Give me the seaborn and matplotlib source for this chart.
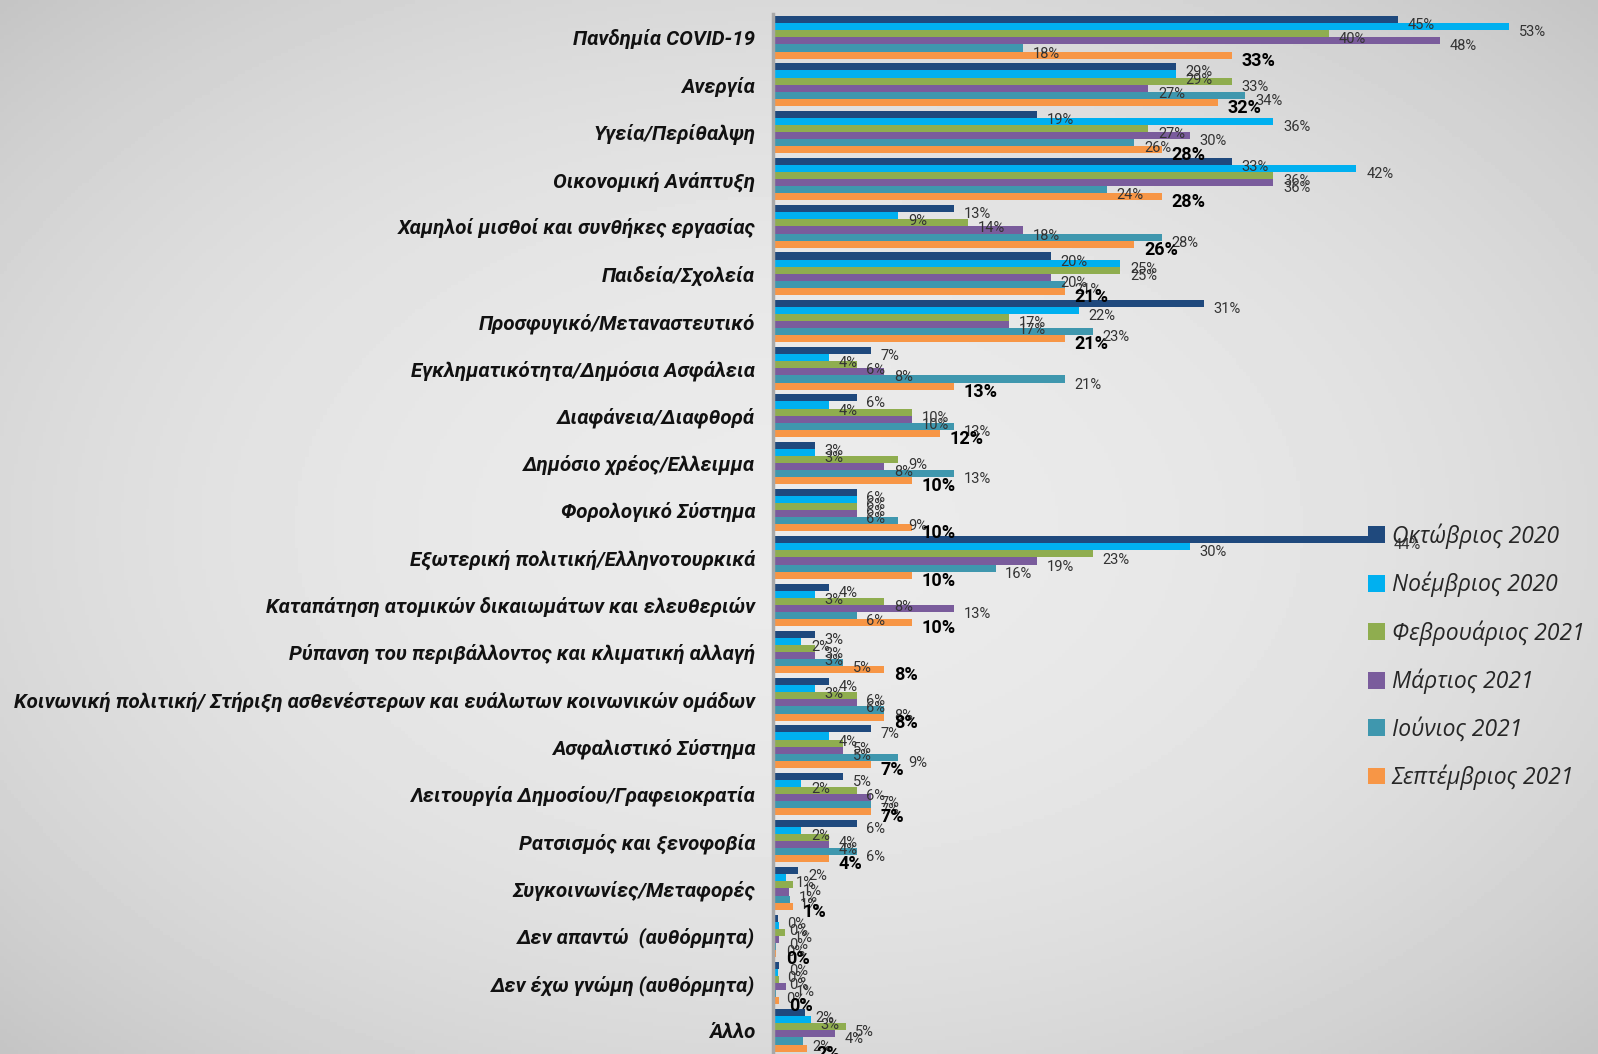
import numpy as np
import pandas as pd
import matplotlib
matplotlib.use("Agg")
import matplotlib.pyplot as plt
import seaborn as sns

# categories top to bottom
categories = [
    "Πανδημία COVID-19",
    "Ανεργία",
    "Υγεία/Περίθαλψη",
    "Οικονομική Ανάπτυξη",
    "Χαμηλοί μισθοί και συνθήκες εργασίας",
    "Παιδεία/Σχολεία",
    "Προσφυγικό/Μεταναστευτικό",
    "Εγκληματικότητα/Δημόσια Ασφάλεια",
    "Διαφάνεια/Διαφθορά",
    "Δημόσιο χρέος/Ελλειμμα",
    "Φορολογικό Σύστημα",
    "Εξωτερική πολιτική/Ελληνοτουρκικά",
    "Καταπάτηση ατομικών δικαιωμάτων και ελευθεριών",
    "Ρύπανση του περιβάλλοντος και κλιματική αλλαγή",
    "Κοινωνική πολιτική/ Στήριξη ασθενέστερων και ευάλωτων κοινωνικών ομάδων",
    "Ασφαλιστικό Σύστημα",
    "Λειτουργία Δημοσίου/Γραφειοκρατία",
    "Ρατσισμός και ξενοφοβία",
    "Συγκοινωνίες/Μεταφορές",
    "Δεν απαντώ  (αυθόρμητα)",
    "Δεν έχω γνώμη (αυθόρμητα)",
    "Άλλο",
]

months = ["Οκτώβριος 2020", "Νοέμβριος 2020", "Φεβρουάριος 2021",
          "Μάρτιος 2021", "Ιούνιος 2021", "Σεπτέμβριος 2021"]

oct_2020 = [45, 29, 19, 33, 13, 20, 31, 7, 6, 3, 6, 44, 4, 3, 4, 7, 5, 6, 1.8, 0.3, 0.4, 2.3]
nov_2020 = [53, 29, 36, 42, 9, 25, 22, 4, 4, 3, 6, 30, 3, 2, 3, 4, 2, 2, 0.9, 0.4, 0.3, 2.7]
feb_2021 = [40, 33, 27, 36, 14, 25, 17, 6, 10, 9, 6, 23, 8, 3, 6, 5, 6, 4, 1.4, 0.8, 0.4, 5.2]
mar_2021 = [48, 27, 30, 36, 18, 20, 17, 8, 10, 8, 6, 19, 13, 3, 6, 5, 7, 4, 1.1, 0.4, 0.9, 4.4]
jun_2021 = [18, 34, 26, 24, 28, 21, 23, 21, 13, 13, 9, 16, 6, 5, 8, 9, 7, 6, 1.2, 0.2, 0.2, 2.1]
sep_2021 = [33, 32, 28, 28, 26, 21, 21, 13, 12, 10, 10, 10, 10, 8, 8, 7, 7, 4, 1.4, 0.2, 0.4, 2.4]

colors = ["#1f497d", "#00b0f0", "#8fad4f", "#7a5c9c", "#3f97ae", "#f79646"]

series = [oct_2020, nov_2020, feb_2021, mar_2021, jun_2021, sep_2021]
rows = []
for m, vals in zip(months, series):
    for c, v in zip(categories, vals):
        rows.append({"category": c, "month": m, "value": v})
df = pd.DataFrame(rows)

sns.set_style("white")
plt.rcParams["font.family"] = ["DejaVu Sans"]

fig = plt.figure(figsize=(15.98, 10.54), dpi=100)

# light grey backdrop, darker towards the corners
bg = fig.add_axes([0, 0, 1, 1], zorder=-5)
yy, xx = np.mgrid[-1:1:300j, -1:1:450j]
r = np.sqrt(xx ** 2 + yy ** 2) / np.sqrt(2)
bg.imshow(0.92 - 0.15 * r ** 2.2, cmap="gray", vmin=0, vmax=1, aspect="auto",
          extent=[0, 1, 0, 1])
bg.axis("off")

ax = fig.add_axes([0.484, 0.0, 0.516, 0.987])
ax.patch.set_alpha(0)

sns.barplot(data=df, y="category", x="value", hue="month", orient="h",
            palette=colors, saturation=1, width=0.9, ax=ax,
            edgecolor="none")

ax.set_xlim(0, 59.4)
ax.set_ylim(len(categories) - 0.5, -0.5)
ax.set_xlabel("")
ax.set_ylabel("")
ax.set_xticks([])

for lab in ax.get_yticklabels():
    lab.set_family(["Roboto", "DejaVu Sans"])
    lab.set_fontsize(14.8)
    lab.set_fontweight("bold")
    lab.set_fontstyle("italic")
    lab.set_color("#111111")
ax.tick_params(axis="y", length=0, pad=13)
ax.set_yticks(np.arange(-0.5, len(categories), 1), minor=True)
ax.tick_params(axis="y", which="minor", length=5, color="#9a9a9a", width=1.2)

for s in ["top", "right", "bottom"]:
    ax.spines[s].set_visible(False)
ax.spines["left"].set_color("#a8a8a8")
ax.spines["left"].set_linewidth(2.5)

# value labels
for i, cont in enumerate(ax.containers):
    last = i == len(ax.containers) - 1
    for patch, v in zip(cont.patches, series[i]):
        ax.annotate(f"{v:.0f}%",
                    (patch.get_x() + patch.get_width(), patch.get_y() + patch.get_height() / 2),
                    xytext=(7, -4), textcoords="offset points",
                    va="center", ha="left",
                    fontsize=13 if last else 10.5,
                    fontweight="bold" if last else "normal",
                    color="black" if last else "#333333",
                    family=["Roboto", "DejaVu Sans"])

handles, labels = ax.get_legend_handles_labels()
ax.get_legend().remove()
fig.legend(handles, labels, loc="upper left", bbox_to_anchor=(0.843, 0.523),
           frameon=False, handlelength=0.75, handleheight=0.75, handletextpad=0.3,
           labelspacing=1.0,
           prop={"family": ["Open Sans", "DejaVu Sans"], "style": "italic", "size": 16.5})

fig.savefig("out.png", dpi=100)
